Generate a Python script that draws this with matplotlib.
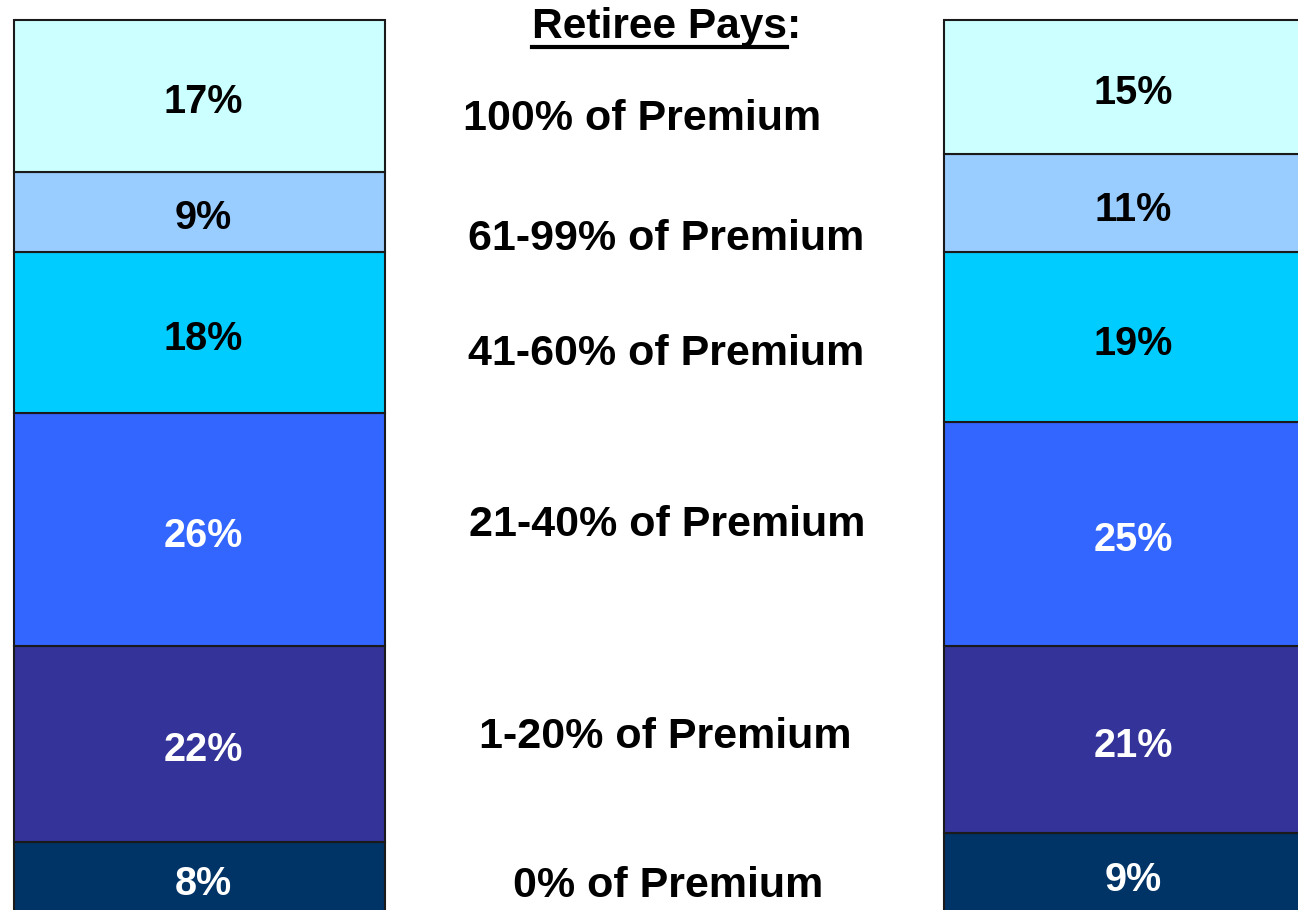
"""Two stacked bars: share of retirees by portion of premium paid."""

import matplotlib
matplotlib.use("Agg")
import matplotlib.pyplot as plt
from matplotlib.lines import Line2D

plt.rcParams['font.family'] = ['Liberation Sans', 'DejaVu Sans']

# bottom -> top
categories = ["0% of Premium", "1-20% of Premium", "21-40% of Premium",
              "41-60% of Premium", "61-99% of Premium", "100% of Premium"]
left_values = [8, 22, 26, 18, 9, 17]
right_values = [9, 21, 25, 19, 11, 15]

colors = ["#003366", "#333399", "#3366FF", "#00CCFF", "#99CCFF", "#CCFFFF"]
text_colors = ["white", "white", "white", "black", "black", "black"]

# middle label layout, pixel positions (x centre, baseline) from the top left
label_x_px = [668, 665, 667, 666, 666, 642]
label_base_px = [897, 748, 536, 365, 250, 130]

W, H = 1298, 910
fig = plt.figure(figsize=(W / 100, H / 100), dpi=100)
ax = fig.add_axes([0, 0, 1, 1])

bar_w = 0.399
px_per_x = 930.0
x0_px = 199.5
ax.set_xlim(-x0_px / px_per_x, 1 + (W - x0_px - px_per_x) / px_per_x)
ax.set_ylim(0.4, 102.25)
ax.axis("off")

for xpos, vals in [(0, left_values), (1, right_values)]:
    bottom = 0
    for i, v in enumerate(vals):
        ax.bar(xpos, v, width=bar_w, bottom=bottom, color=colors[i],
               edgecolor="#1a1a1a", linewidth=1.5)
        ax.annotate(f"{v}%", (xpos, bottom + v / 2), xytext=(2.5, -4.5),
                    textcoords="offset points", ha="center", va="center",
                    fontsize=28.5, fontweight="bold", color=text_colors[i])
        bottom += v

for cat, xp, yp in zip(categories, label_x_px, label_base_px):
    fig.text(xp / W, 1 - yp / H, cat, ha="center", va="baseline",
             fontsize=31, fontweight="bold")

# title with underline under "Retiree Pays" only
title = fig.text(532 / W, 1 - 38 / H, "Retiree Pays", ha="left",
                 va="baseline", fontsize=30.5, fontweight="bold")
fig.canvas.draw()
bb = title.get_window_extent()
fig.text(bb.x1 / W, 1 - 38 / H, ":", ha="left", va="baseline",
         fontsize=30.5, fontweight="bold")
uy = 1 - 46.5 / H
fig.add_artist(Line2D([bb.x0 / W, bb.x1 / W], [uy, uy], color="black",
                      linewidth=3, transform=fig.transFigure))

fig.savefig("out.png", dpi=100)
plt.close()
